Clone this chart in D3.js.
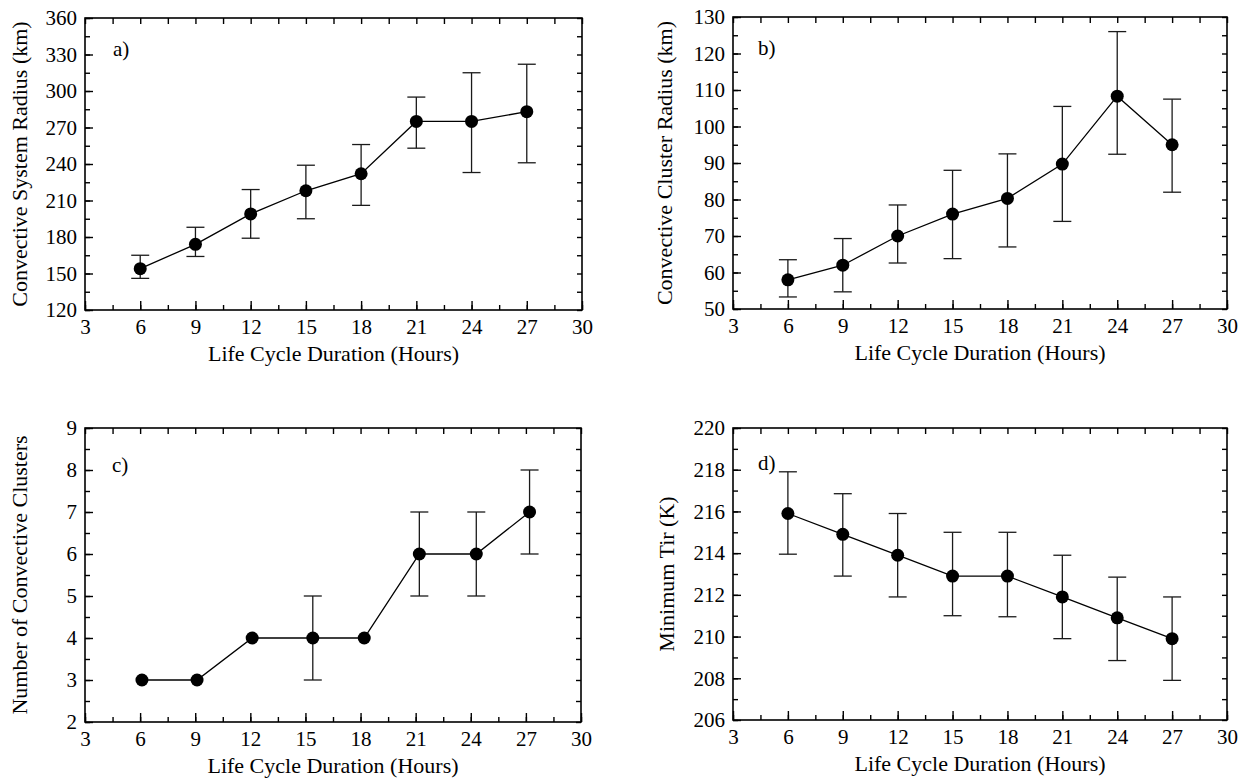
<!DOCTYPE html>
<html>
<head>
<meta charset="utf-8">
<script src="https://cdn.jsdelivr.net/npm/d3@7"></script>
<style>
  body { margin: 0; background: #fff; }
  svg text { font-family: "Liberation Serif", "Times New Roman", serif; fill: #000; }
</style>
</head>
<body>
<svg id="chart" width="1248" height="778"></svg>
<script>
// Life cycle duration (hours) at which each point is plotted
const hours = [6, 9, 12, 15, 18, 21, 24, 27];
const hoursC = [6.1, 9.1, 12.1, 15.4, 18.2, 21.2, 24.3, 27.2];
const xTicks = [3, 6, 9, 12, 15, 18, 21, 24, 27, 30];

// a) convective system radius (km)
const sysRadius = [154, 174, 199, 218, 232, 275, 275, 283];
const sysRadiusHi = [165, 188, 219, 239, 256, 295, 315, 322];
const sysRadiusLo = [146, 164, 179, 195, 206, 253, 233, 241];

// b) convective cluster radius (km)
const clusRadius = [58, 62, 70, 76, 80.3, 89.7, 108.3, 95];
const clusRadiusHi = [63.5, 69.3, 78.5, 88, 92.5, 105.5, 126, 107.5];
const clusRadiusLo = [53.3, 54.7, 62.6, 63.8, 67, 74, 92.4, 82];

// c) number of convective clusters (no bar where hi == lo)
const nClusters = [3, 3, 4, 4, 4, 6, 6, 7];
const nClustersHi = [3, 3, 4, 5, 4, 7, 7, 8];
const nClustersLo = [3, 3, 4, 3, 4, 5, 5, 6];

// d) minimum Tir (K)
const minTir = [215.9, 214.9, 213.9, 212.9, 212.9, 211.9, 210.9, 209.9];
const minTirHi = [217.9, 216.85, 215.9, 215.0, 215.0, 213.9, 212.85, 211.9];
const minTirLo = [213.95, 212.9, 211.9, 211.0, 210.95, 209.9, 208.85, 207.9];

const xTitle = 'Life Cycle Duration (Hours)';

const panels = [
  { tag: 'a)', x: hours, y: sysRadius, hi: sysRadiusHi, lo: sysRadiusLo,
    yDomain: [120, 360], yMajor: 30, yMinor: 15, yTitle: 'Convective System Radius (km)',
    left: 85, top: 18, width: 497, height: 292, titleOff: 58, tagX: 28, tagY: 38 },
  { tag: 'b)', x: hours, y: clusRadius, hi: clusRadiusHi, lo: clusRadiusLo,
    yDomain: [50, 130], yMajor: 10, yMinor: 5, yTitle: 'Convective Cluster Radius (km)',
    left: 733, top: 17, width: 494, height: 292, titleOff: 61, tagX: 25, tagY: 38 },
  { tag: 'c)', x: hoursC, y: nClusters, hi: nClustersHi, lo: nClustersLo,
    yDomain: [2, 9], yMajor: 1, yMinor: 0.5, yTitle: 'Number of Convective Clusters',
    left: 85, top: 428, width: 496, height: 294, titleOff: 58, tagX: 27, tagY: 44 },
  { tag: 'd)', x: hours, y: minTir, hi: minTirHi, lo: minTirLo,
    yDomain: [206, 220], yMajor: 2, yMinor: 1, yTitle: 'Minimum Tir (K)',
    left: 733, top: 428, width: 494, height: 292, titleOff: 59, tagX: 25, tagY: 42 }
];

const svg = d3.select('#chart');
const FONT = 21;       // tick labels, panel tags
const TITLE_FONT = 22; // axis titles

function steps(lo, hi, step) {
  const out = [];
  for (let i = 0; lo + i * step <= hi + 1e-9; i++) out.push(+(lo + i * step).toFixed(4));
  return out;
}

function drawPanel(p) {
  const w = p.width, h = p.height;
  const g = svg.append('g').attr('transform', `translate(${p.left},${p.top})`);

  const x = d3.scaleLinear().domain([3, 30]).range([0, w]);
  const y = d3.scaleLinear().domain(p.yDomain).range([h, 0]);

  const xMinor = steps(3, 30, 1.5);
  const yMajor = steps(p.yDomain[0], p.yDomain[1], p.yMajor);
  const yMinor = steps(p.yDomain[0], p.yDomain[1], p.yMinor);
  const fmt = d3.format('~g');

  // bottom: minor then major with labels
  g.append('g').attr('class', 'axis')
    .attr('transform', `translate(0,${h})`)
    .call(d3.axisBottom(x).tickValues(xMinor).tickSize(-5).tickSizeOuter(0).tickFormat(''));
  g.append('g').attr('class', 'axis')
    .attr('transform', `translate(0,${h})`)
    .call(d3.axisBottom(x).tickValues(xTicks).tickSize(-9).tickSizeOuter(0).tickPadding(9).tickFormat(fmt));
  // top
  g.append('g').attr('class', 'axis')
    .call(d3.axisTop(x).tickValues(xMinor).tickSize(-6).tickSizeOuter(0).tickFormat(''));

  // left: minor then major with labels
  g.append('g').attr('class', 'axis')
    .call(d3.axisLeft(y).tickValues(yMinor).tickSize(-5).tickSizeOuter(0).tickFormat(''));
  g.append('g').attr('class', 'axis')
    .call(d3.axisLeft(y).tickValues(yMajor).tickSize(-8).tickSizeOuter(0).tickPadding(8).tickFormat(fmt));
  // right
  g.append('g').attr('class', 'axis')
    .attr('transform', `translate(${w},0)`)
    .call(d3.axisRight(y).tickValues(yMinor).tickSize(-5).tickSizeOuter(0).tickFormat(''));

  g.selectAll('.axis .domain').remove();
  g.selectAll('.axis line').attr('stroke', '#000').attr('stroke-width', 1.4);
  g.selectAll('.axis text')
    .style('font-size', FONT + 'px')
    .style('font-family', '"Liberation Serif", "Times New Roman", serif')
    .attr('fill', '#000');

  // frame
  g.append('rect')
    .attr('width', w).attr('height', h)
    .attr('fill', 'none').attr('stroke', '#000').attr('stroke-width', 1.6);

  const pts = p.x.map((hx, i) => ({ x: hx, y: p.y[i], hi: p.hi[i], lo: p.lo[i] }));

  // error bars
  const bars = g.append('g').attr('class', 'errbars')
    .selectAll('g').data(pts.filter(d => d.hi !== d.lo)).enter().append('g');
  bars.append('line')
    .attr('x1', d => x(d.x)).attr('x2', d => x(d.x))
    .attr('y1', d => y(d.hi)).attr('y2', d => y(d.lo));
  bars.append('line')
    .attr('x1', d => x(d.x) - 9).attr('x2', d => x(d.x) + 9)
    .attr('y1', d => y(d.hi)).attr('y2', d => y(d.hi));
  bars.append('line')
    .attr('x1', d => x(d.x) - 9).attr('x2', d => x(d.x) + 9)
    .attr('y1', d => y(d.lo)).attr('y2', d => y(d.lo));
  bars.selectAll('line').attr('stroke', '#1a1a1a').attr('stroke-width', 1.3);

  // connecting line
  const line = d3.line().x(d => x(d.x)).y(d => y(d.y));
  g.append('path')
    .datum(pts)
    .attr('d', line)
    .attr('fill', 'none')
    .attr('stroke', '#000')
    .attr('stroke-width', 1.3);

  // points
  g.selectAll('.pt').data(pts).enter().append('circle')
    .attr('class', 'pt')
    .attr('cx', d => x(d.x))
    .attr('cy', d => y(d.y))
    .attr('r', 6.5)
    .attr('fill', '#000');

  // panel tag
  g.append('text')
    .attr('x', p.tagX).attr('y', p.tagY)
    .style('font-size', FONT + 'px')
    .text(p.tag);

  // axis titles
  g.append('text')
    .attr('x', w / 2).attr('y', h + 51)
    .attr('text-anchor', 'middle')
    .style('font-size', TITLE_FONT + 'px')
    .text(xTitle);

  g.append('text')
    .attr('transform', `translate(${-p.titleOff},${h / 2}) rotate(-90)`)
    .attr('text-anchor', 'middle')
    .style('font-size', TITLE_FONT + 'px')
    .text(p.yTitle);
}

panels.forEach(drawPanel);
</script>
</body>
</html>
